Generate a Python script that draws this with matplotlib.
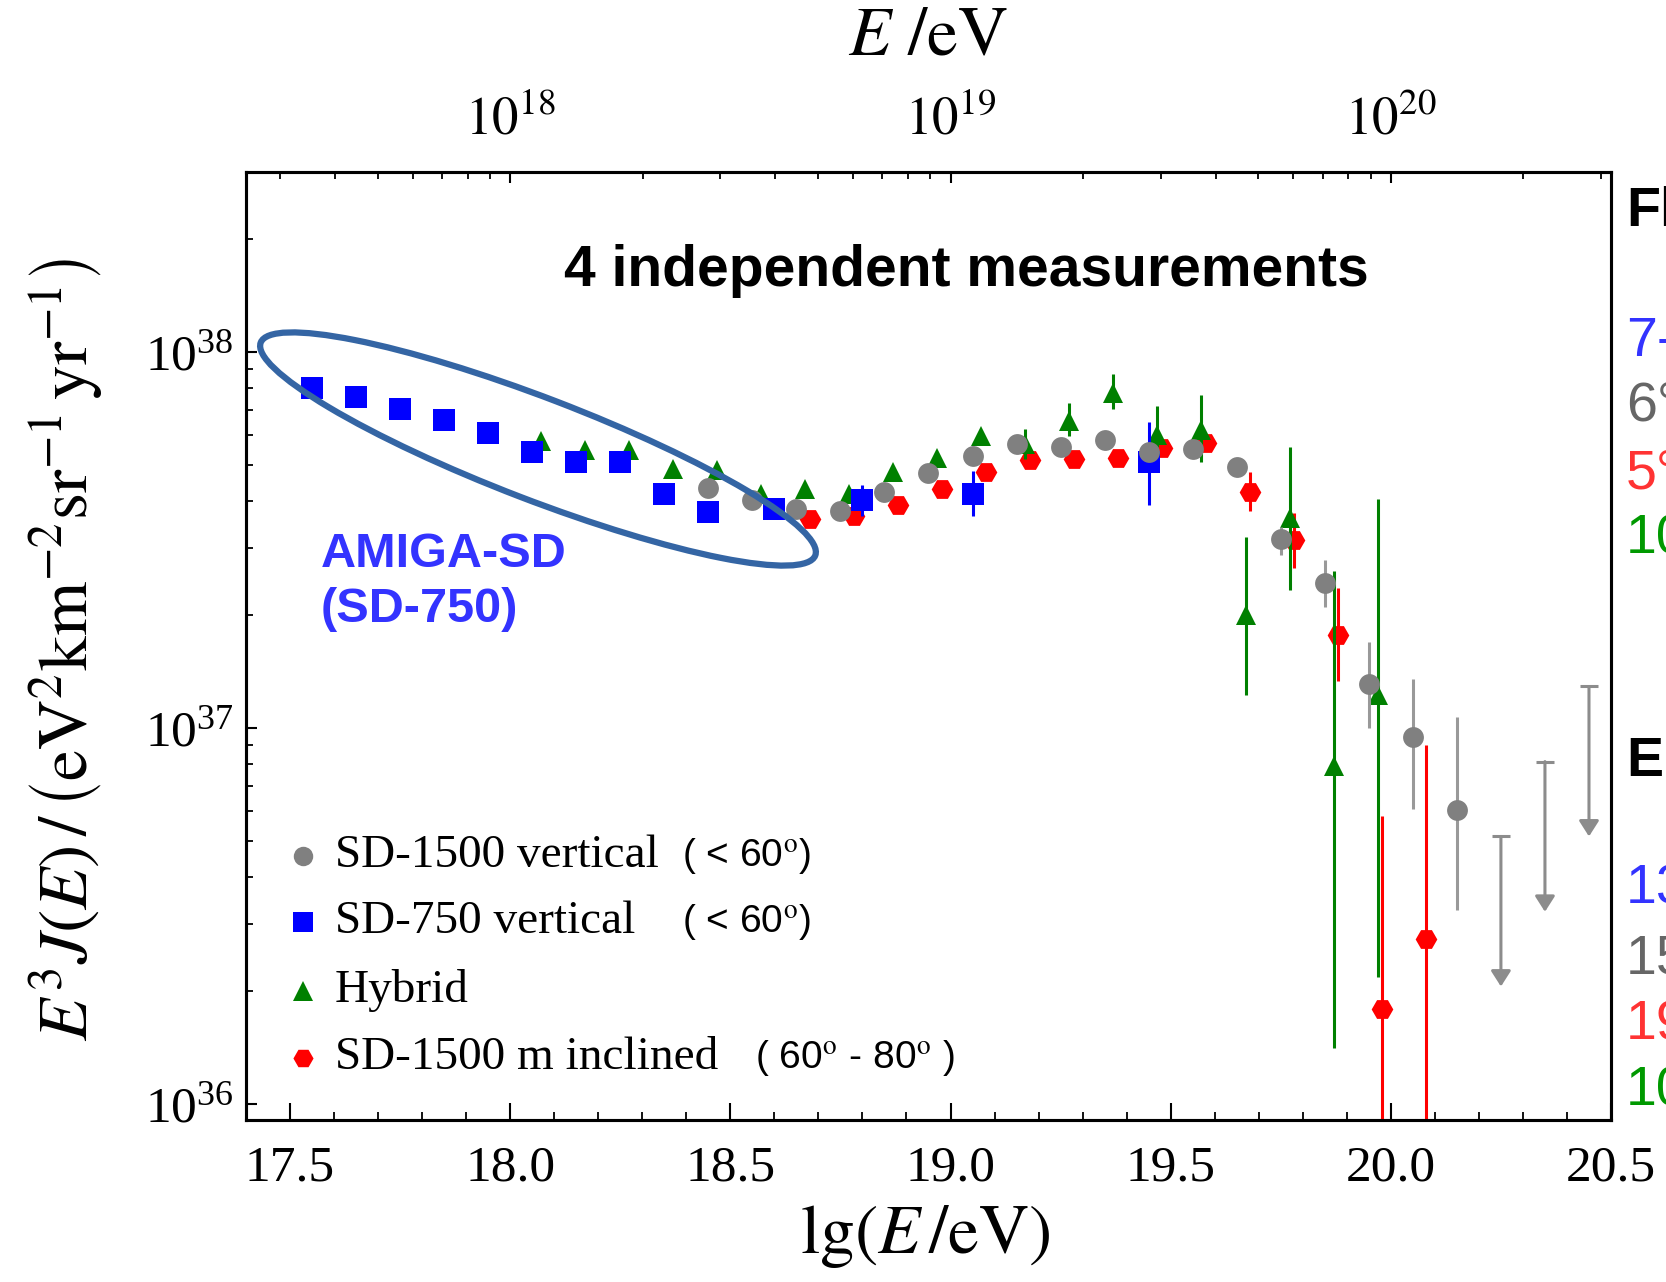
import numpy as np
import matplotlib
matplotlib.use("Agg")
import matplotlib.pyplot as plt
from matplotlib.patches import Ellipse
from matplotlib.transforms import IdentityTransform
from matplotlib.ticker import MultipleLocator, FixedLocator, NullFormatter, LogLocator

plt.rcParams['font.family'] = 'Liberation Serif'
plt.rcParams['mathtext.fontset'] = 'stix'

# flux values E^3 J(E) in units of 1e37 eV^2 km^-2 sr^-1 yr^-1
# SD-750 vertical
sd750_lgE = [17.55, 17.65, 17.75, 17.85, 17.95, 18.05, 18.15, 18.25, 18.35, 18.45, 18.6, 18.8, 19.05, 19.45]
sd750_flux = [8.04, 7.60, 7.05, 6.60, 6.10, 5.43, 5.08, 5.11, 4.18, 3.74, 3.82, 4.03, 4.19, 5.10]
sd750_lo = [7.90, 7.47, 6.93, 6.49, 5.99, 5.33, 4.98, 5.00, 4.08, 3.64, 3.70, 3.65, 3.65, 3.92]
sd750_hi = [8.18, 7.73, 7.17, 6.71, 6.21, 5.53, 5.18, 5.22, 4.28, 3.84, 3.94, 4.43, 4.83, 6.49]

# SD-1500 vertical
sd1500_lgE = [18.45, 18.55, 18.65, 18.75, 18.85, 18.95, 19.05, 19.15, 19.25, 19.35, 19.45, 19.55,
              19.65, 19.75, 19.85, 19.95, 20.05, 20.15]
sd1500_flux = [4.34, 4.03, 3.82, 3.78, 4.24, 4.75, 5.28, 5.69, 5.58, 5.83, 5.40, 5.51,
               4.95, 3.18, 2.43, 1.31, 0.948, 0.605]
sd1500_lo = [4.30, 3.99, 3.78, 3.74, 4.19, 4.69, 5.21, 5.60, 5.48, 5.70, 5.25, 5.35,
             4.80, 2.88, 2.09, 1.00, 0.608, 0.327]
sd1500_hi = [4.38, 4.07, 3.86, 3.82, 4.29, 4.81, 5.35, 5.78, 5.68, 5.96, 5.55, 5.67,
             5.10, 3.43, 2.80, 1.69, 1.35, 1.07]

# SD-1500 upper limits
ul_lgE = [20.25, 20.35, 20.45]
ul_top = [0.514, 0.813, 1.288]
ul_tip = [0.205, 0.324, 0.514]

# Hybrid
hyb_lgE = [18.07, 18.17, 18.27, 18.37, 18.47, 18.57, 18.67, 18.77, 18.87, 18.97,
           19.07, 19.17, 19.27, 19.37, 19.47, 19.57, 19.67, 19.77, 19.87, 19.97]
hyb_flux = [5.81, 5.48, 5.47, 4.88, 4.85, 4.19, 4.33, 4.19, 4.78, 5.22,
            5.98, 5.69, 6.55, 7.76, 6.01, 6.21, 2.00, 3.62, 0.793, 1.22]
hyb_lo = [5.70, 5.38, 5.37, 4.78, 4.74, 4.09, 4.22, 4.08, 4.65, 5.07,
          5.78, 5.18, 5.98, 7.05, 5.58, 5.11, 1.22, 2.32, 0.141, 0.217]
hyb_hi = [5.92, 5.58, 5.57, 4.98, 4.96, 4.29, 4.44, 4.30, 4.91, 5.37,
          6.18, 6.22, 7.29, 8.73, 7.16, 7.69, 3.21, 5.60, 2.62, 4.06]

# SD-1500 inclined
inc_lgE = [18.68, 18.78, 18.88, 18.98, 19.08, 19.18, 19.28, 19.38, 19.48, 19.58,
           19.68, 19.78, 19.88, 19.98, 20.08]
inc_flux = [3.59, 3.66, 3.92, 4.32, 4.78, 5.16, 5.19, 5.23, 5.54, 5.74,
            4.25, 3.16, 1.77, 0.179, 0.275]
inc_lo = [3.53, 3.60, 3.85, 4.24, 4.68, 5.04, 5.06, 5.10, 5.36, 5.50,
          3.78, 2.66, 1.33, 0.001, 0.001]
inc_hi = [3.65, 3.72, 3.99, 4.40, 4.88, 5.28, 5.32, 5.36, 5.72, 5.98,
          4.78, 3.72, 2.35, 0.583, 0.902]

legend_labels = ['SD-1500 vertical', 'SD-750 vertical', 'Hybrid', 'SD-1500 m inclined']
legend_notes = ['( < 60$^{\\mathrm{o}}$)', '( < 60$^{\\mathrm{o}}$)', '',
                '( 60$^{\\mathrm{o}}$ - 80$^{\\mathrm{o}}$ )']

side_texts = [('Fl', 'black', 'bold', 212), ('7-', '#3333ff', 'normal', 342),
              ('6°', '#666666', 'normal', 407), ('5°', '#ff3333', 'normal', 475),
              ('10', '#009900', 'normal', 540), ('E', 'black', 'bold', 762),
              ('13', '#3333ff', 'normal', 890), ('15', '#666666', 'normal', 959),
              ('19', '#ff3333', 'normal', 1026), ('10', '#009900', 'normal', 1091)]

W, H = 1666, 1282
fig = plt.figure(figsize=(W / 100, H / 100), dpi=100)
ax = fig.add_axes([246 / W, 1 - 1120 / H, 1365 / W, 948 / H])


def draw(x, f, lo, hi, fmt, col, ecol, ms, z):
    f = np.array(f) * 1e37
    lo = np.array(lo) * 1e37
    hi = np.array(hi) * 1e37
    ax.errorbar(x, f, yerr=[f - lo, hi - f], fmt=fmt, color=col, ecolor=ecol,
                ms=ms, mew=0, elinewidth=2.2, capsize=0, zorder=z)


draw(inc_lgE, inc_flux, inc_lo, inc_hi, 'H', 'red', 'red', 15.6, 3)
draw(hyb_lgE, hyb_flux, hyb_lo, hyb_hi, '^', 'green', 'green', 15, 4)
draw(sd750_lgE, sd750_flux, sd750_lo, sd750_hi, 's', 'blue', 'blue', 16, 5)
draw(sd1500_lgE, sd1500_flux, sd1500_lo, sd1500_hi, 'o', 'grey', '#999999', 15, 6)

for x, t, p in zip(ul_lgE, ul_top, ul_tip):
    ax.annotate('', xy=(x, p * 1e37), xytext=(x, t * 1e37),
                arrowprops=dict(arrowstyle='-|>,head_width=0.3,head_length=0.47',
                                color='#8c8c8c', lw=2.2, mutation_scale=20,
                                shrinkA=0, shrinkB=0), zorder=6)
ax.plot(ul_lgE, np.array(ul_top) * 1e37, ls='none', marker='_', ms=13, mew=2.2,
        color='#8c8c8c', zorder=6)

ax.set_yscale('log')
ax.set_xlim(17.4, 20.5)
ax.set_ylim(9.05e35, 3.01e38)

ax.set_xticks([17.5, 18.0, 18.5, 19.0, 19.5, 20.0, 20.5])
ax.set_xticklabels(['17.5', '18.0', '18.5', '19.0', '19.5', '20.0', '20.5'])
ax.xaxis.set_minor_locator(MultipleLocator(0.1))
ax.yaxis.set_major_locator(LogLocator(base=10))
ax.yaxis.set_minor_locator(LogLocator(base=10, subs=np.arange(2, 10)))
ax.yaxis.set_minor_formatter(NullFormatter())
ax.tick_params(axis='x', which='major', direction='in', length=12, width=1.5,
               labelsize=37, pad=18, top=False)
ax.tick_params(axis='x', which='minor', direction='in', length=6, width=1.3, top=False)
ax.tick_params(axis='y', which='major', direction='in', length=8, width=1.5,
               labelsize=37, pad=9, right=False)
ax.tick_params(axis='y', which='minor', direction='in', length=5, width=1.3, right=False)
for s in ax.spines.values():
    s.set_linewidth(2.2)

# top energy axis
ax2 = ax.twiny()
ax2.set_xlim(ax.get_xlim())
ax2.set_xticks([18, 19, 20])
ax2.set_xticklabels(['$10^{18}$', '$10^{19}$', '$10^{20}$'])
top_minor = [n + np.log10(k) for n in range(17, 21) for k in range(2, 10)]
ax2.xaxis.set_minor_locator(FixedLocator([v for v in top_minor if 17.4 <= v <= 20.5]))
ax2.tick_params(axis='x', which='major', direction='in', length=8, width=1.5,
                labelsize=38, pad=19)
ax2.tick_params(axis='x', which='minor', direction='in', length=5, width=1.3)
for s in ax2.spines.values():
    s.set_linewidth(2.2)

# axis titles
fig.text(925 / W, 1 - 1236 / H, r'$\mathrm{lg}\left(E\,/\mathrm{eV}\right)$',
         ha='center', va='center', fontsize=50)
fig.text(928 / W, 1 - 38 / H, r'$E\ /\mathrm{eV}$', ha='center', va='center', fontsize=50)
fig.text(66 / W, 1 - 650 / H,
         r'$E^3 J(E)\,/\,\left(\mathrm{eV}^2\mathrm{km}^{-2}\mathrm{sr}^{-1}\,\mathrm{yr}^{-1}\right)$',
         ha='center', va='center', rotation=90, fontsize=50)

ax.text(0.528, 0.8956, '4 independent measurements', transform=ax.transAxes,
        ha='center', va='center', fontsize=41, fontweight='bold', family='Liberation Sans')
ax.text(0.0549, 0.596, 'AMIGA-SD', transform=ax.transAxes, ha='left', va='center',
        fontsize=35, fontweight='bold', family='Liberation Sans', color='#3333ff')
ax.text(0.0549, 0.539, '(SD-750)', transform=ax.transAxes, ha='left', va='center',
        fontsize=35, fontweight='bold', family='Liberation Sans', color='#3333ff')

# hand-made legend
leg_markers = [('o', 'grey', 14), ('s', 'blue', 15), ('^', 'green', 14), ('H', 'red', 14.5)]
leg_y = [0.2785, 0.2089, 0.1361, 0.0654]
note_x = [0.3194, 0.3194, 0.3194, 0.3729]
for (m, c, ms), yy, lab, note, nx in zip(leg_markers, leg_y, legend_labels, legend_notes, note_x):
    ax.plot([0.0418], [yy], marker=m, color=c, ms=ms, mew=0, ls='none',
            transform=ax.transAxes, clip_on=False, zorder=7)
    ax.text(0.0652, yy, lab, transform=ax.transAxes, ha='left', va='center', fontsize=34)
    if note:
        ax.text(nx, yy, note, transform=ax.transAxes, ha='left', va='center',
                fontsize=28, family='Liberation Sans')

for txt, col, wt, py in side_texts:
    fig.text(1626 / W, 1 - py / H, txt, color=col, fontweight=wt, ha='left', va='center',
             fontsize=40, family='Liberation Sans')

ell = Ellipse((538, H - 449), 594, 102, angle=-21, transform=IdentityTransform(),
              fill=False, ec='#3465a4', lw=4.5, zorder=10)
fig.add_artist(ell)

fig.savefig('out.png', dpi=100)
